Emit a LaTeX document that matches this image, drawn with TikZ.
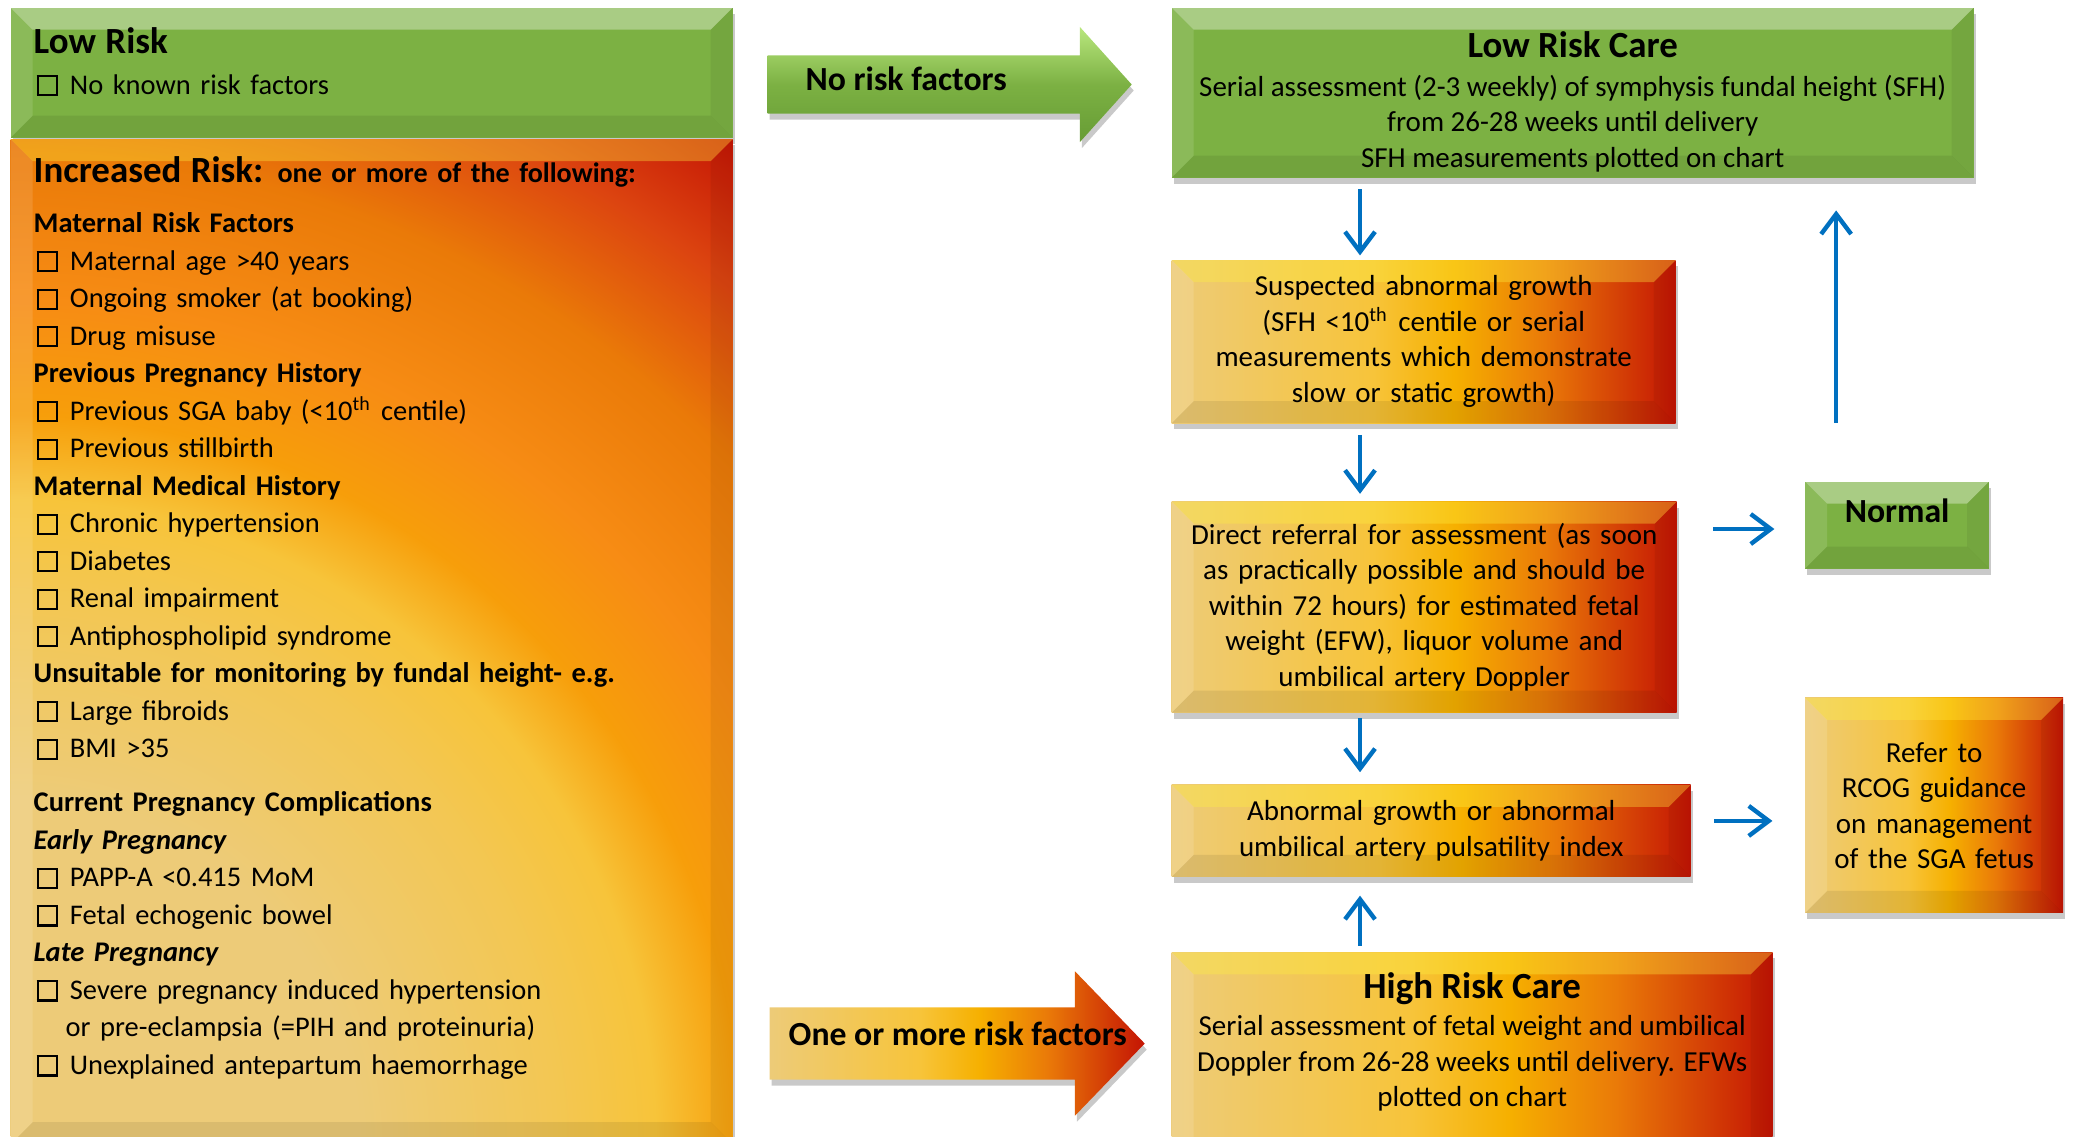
\documentclass[tikz,border=0pt]{standalone}
\usepackage{fontspec}
\setmainfont{Carlito}
\usetikzlibrary{arrows.meta,shapes,shadows,positioning,calc}

\definecolor{leafgreen}{HTML}{7CB143}
\definecolor{leaflite}{HTML}{B9E77E}
\definecolor{leafdark}{HTML}{679C35}
\definecolor{hotpale}{HTML}{EDCB78}
\definecolor{hotyel}{HTML}{F7C43A}
\definecolor{hotamb}{HTML}{F6B000}
\definecolor{hotorg}{HTML}{EA7A08}
\definecolor{hotorgb}{HTML}{F78C14}
\definecolor{hotdeep}{HTML}{DC4410}
\definecolor{hotred}{HTML}{C41404}
\definecolor{hotshine}{HTML}{FFF040}
\definecolor{flowblue}{HTML}{0070C0}

\pgfdeclarehorizontalshading{hotbar}{100bp}{color(0bp)=(hotpale); color(25bp)=(hotpale); color(45bp)=(hotyel); color(53bp)=(hotamb); color(62bp)=(hotorg); color(75bp)=(hotred); color(100bp)=(hotred)}
\pgfdeclareradialshading{hotglow}{\pgfpointorigin}{color(0bp)=(hotpale); color(7bp)=(hotpale); color(11bp)=(hotyel!60!hotpale); color(13bp)=(hotyel); color(14.7bp)=(hotamb!50!hotorgb); color(17bp)=(hotorgb); color(20bp)=(hotorg); color(22.6bp)=(hotdeep); color(25bp)=(hotred); color(50bp)=(hotred)}

\newcommand{\titlefont}{\fontsize{10.5}{12}\selectfont\bfseries}
\newcommand{\leftfont}{\fontsize{8.1}{10.67}\selectfont}
\newcommand{\rightfont}{\fontsize{8.25}{10.1}\selectfont}
\newcommand{\arrowfont}{\fontsize{9.6}{11}\selectfont\bfseries}
\setlength{\fboxsep}{0pt}
\setlength{\fboxrule}{0.6pt}
\newcommand{\chkbox}{\hspace{0.03cm}\fbox{\rule{0pt}{0.17cm}\hspace{0.17cm}}\hspace{0.12cm}}

% bevel facets of a box, drawn inside a path picture
\newcommand{\bevelfacets}[1]{%
  \path (path picture bounding box.north west) coordinate (bnw)
        (path picture bounding box.north east) coordinate (bne)
        (path picture bounding box.south west) coordinate (bsw)
        (path picture bounding box.south east) coordinate (bse);
  \fill[#1,opacity=0.35] (bnw) -- (bne) -- ++(-0.22,-0.22) -- ($(bnw)+(0.22,-0.22)$) -- cycle;
  \fill[black,opacity=0.08] (bsw) -- (bse) -- ++(-0.22,0.22) -- ($(bsw)+(0.22,0.22)$) -- cycle;
  \fill[white,opacity=0.12] (bnw) -- ++(0.22,-0.22) -- ($(bsw)+(0.22,0.22)$) -- (bsw) -- cycle;
  \fill[black,opacity=0.06] (bne) -- ++(-0.22,-0.22) -- ($(bse)+(-0.22,0.22)$) -- (bse) -- cycle;}
\tikzset{bevel/.style={path picture={\bevelfacets{#1}}}, bevel/.default=white}
\tikzstyle{panel}=[rectangle, inner ysep=0, inner xsep=0.08cm,
  drop shadow={shadow xshift=0.02cm, shadow yshift=-0.06cm, opacity=0.3, fill=black!70}]
\tikzstyle{greenbox}=[panel, fill=leafgreen, bevel]
\tikzstyle{hotbox}=[panel, shading=hotbar, bevel=hotshine, align=center, font=\rightfont]
\tikzstyle{hotpanel}=[panel, fill=hotorgb, path picture={
  \shade[shading=hotglow] (path picture bounding box.south west) circle (12.4cm);
  \bevelfacets{hotshine}}]
\tikzstyle{listtext}=[anchor=base west, inner sep=0, text width=6.9cm, align=left, font=\leftfont]
\tikzstyle{caretext}=[anchor=north, inner sep=0, align=center, font=\rightfont]
\tikzstyle{blockarrow}=[single arrow, inner sep=0, minimum width=0pt,
  drop shadow={shadow xshift=0.02cm, shadow yshift=-0.06cm, opacity=0.3, fill=black!70}]
\tikzstyle{flow}=[->, >={Straight Barb[length=2mm,width=3mm]}, draw=flowblue, line width=1.25pt]

\begin{document}
\begin{tikzpicture}
\useasboundingbox (0,0) rectangle (20.73,-11.36);

% risk lists
\node[greenbox, anchor=north west, minimum width=7.22cm, minimum height=1.30cm] (lowrisk) at (0.10,-0.07) {};
\node[hotpanel, below=0cm of lowrisk.south west, anchor=north west,
  minimum width=7.22cm, minimum height=10.05cm] (incr) {};

\node[listtext] (lowriskt) at (0.33,-0.53)
{{\titlefont Low Risk}\\[1pt]
\chkbox No known risk factors};

\node[listtext] (incrt) at (0.33,-1.82)
{{\titlefont Increased Risk:} {\fontsize{8}{10}\selectfont\bfseries one or more of the following:}\\[3.8pt]
{\bfseries Maternal Risk Factors}\\
\chkbox Maternal age >40 years\\
\chkbox Ongoing smoker (at booking)\\
\chkbox Drug misuse\\
{\bfseries Previous Pregnancy History}\\
\chkbox Previous SGA baby (<10\textsuperscript{th} centile)\\
\chkbox Previous stillbirth\\
{\bfseries Maternal Medical History}\\
\chkbox Chronic hypertension\\
\chkbox Diabetes\\
\chkbox Renal impairment\\
\chkbox Antiphospholipid syndrome\\
{\bfseries Unsuitable for monitoring by fundal height- e.g.}\\
\chkbox Large fibroids\\
\chkbox BMI >35\\[4.7pt]
{\bfseries Current Pregnancy Complications}\\
{\bfseries\itshape Early Pregnancy}\\
\chkbox PAPP-A <0.415 MoM\\
\chkbox Fetal echogenic bowel\\
{\bfseries\itshape Late Pregnancy}\\
\chkbox Severe pregnancy induced hypertension\\
\hspace*{0.32cm}or pre-eclampsia (=PIH and proteinuria)\\
\chkbox Unexplained antepartum haemorrhage};

% block arrows
\node[blockarrow, top color=leaflite, bottom color=leafdark, middle color=leafgreen,
  text height=0.285cm, text depth=0.285cm, minimum height=3.64cm,
  single arrow head extend=0.285cm, single arrow tip angle=96, anchor=tail] (norisk) at (7.67,-0.845) {};
\node[anchor=base west, inner sep=0, font=\arrowfont] (noriskl) at (8.05,-0.90) {No risk factors};

\node[blockarrow, shading=hotbar,
  text height=0.355cm, text depth=0.355cm, minimum height=3.75cm,
  single arrow head extend=0.36cm, single arrow tip angle=92, anchor=tail] (risk) at (7.69,-10.435) {};
\node[anchor=base west, inner sep=0, font=\arrowfont] (riskl) at (7.88,-10.45) {One or more risk factors};

% care pathway
\node[greenbox, anchor=north west, minimum width=8.02cm, minimum height=1.70cm] (lowcare) at (11.71,-0.07) {};
\node[caretext, below=0.24cm of lowcare.north] (lowcaret)
{{\titlefont Low Risk Care}\\[0.85pt]
Serial assessment (2-3 weekly) of symphysis fundal height (SFH)\\
from 26-28 weeks until delivery\\
SFH measurements plotted on chart};

\node[hotbox, below=0.81cm of lowcare.south west, anchor=north west,
  minimum width=5.04cm, minimum height=1.63cm, text width=4.88cm] (suspect)
{Suspected abnormal growth\\
(SFH <10\textsuperscript{th} centile or serial\\
measurements which demonstrate\\
slow or static growth)};

\node[hotbox, below=0.77cm of suspect.south west, anchor=north west,
  minimum width=5.05cm, minimum height=2.11cm, text width=4.89cm] (referral)
{Direct referral for assessment (as soon\\
as practically possible and should be\\
within 72 hours) for estimated fetal\\
weight (EFW), liquor volume and\\
umbilical artery Doppler};

\node[hotbox, below=0.71cm of referral.south west, anchor=north west,
  minimum width=5.19cm, minimum height=0.92cm, text width=5.03cm] (abnormal)
{Abnormal growth or abnormal\\
umbilical artery pulsatility index};

\node[hotbox, below=0.74cm of abnormal.south west, anchor=north west,
  minimum width=6.01cm, minimum height=2.30cm] (highcare) {};
\node[caretext, below=0.20cm of highcare.north] (highcaret)
{{\titlefont High Risk Care}\\[0.6pt]
Serial assessment of fetal weight and umbilical\\
Doppler from 26-28 weeks until delivery. EFWs\\
plotted on chart};

\node[greenbox, right=1.27cm of referral.north east, anchor=north west, yshift=0.2cm,
  minimum width=1.84cm, minimum height=0.87cm] (normal) {};
\node[anchor=base, inner sep=0, font=\arrowfont] (normalt) at ([yshift=0.025cm]normal.center) {Normal};

\node[hotbox, below=1.28cm of normal.south west, anchor=north west,
  minimum width=2.58cm, minimum height=2.15cm, text width=2.42cm] (rcog)
{Refer to\\
RCOG guidance\\
on management\\
of the SGA fetus};

% connectors
\coordinate (spine) at (13.60,0);
\draw[flow, shorten <=0.11cm, shorten >=0.04cm] (lowcare.south -| spine) -- (suspect.north -| spine);
\draw[flow, shorten <=0.11cm, shorten >=0.07cm] (suspect.south -| spine) -- (referral.north -| spine);
\draw[flow, shorten <=0.05cm, shorten >=0.12cm] (referral.south -| spine) -- (abnormal.north -| spine);
\draw[flow, shorten <=0.06cm, shorten >=0.18cm] (highcare.north -| spine) -- (abnormal.south -| spine);
\draw[flow, shorten <=0.36cm, shorten >=0.30cm] ([yshift=-0.04cm]normal.west -| referral.east) -- ([yshift=-0.04cm]normal.west);
\draw[flow, shorten <=0.23cm, shorten >=0.32cm] ([yshift=0.10cm]abnormal.east) -- ([yshift=0.10cm]abnormal.east -| rcog.west);
\draw[flow, shorten <=0.58cm, shorten >=0.32cm] ([xshift=-0.61cm]normal.north) -- ([xshift=-0.61cm]normal.north |- lowcare.south);
\end{tikzpicture}
\end{document}
